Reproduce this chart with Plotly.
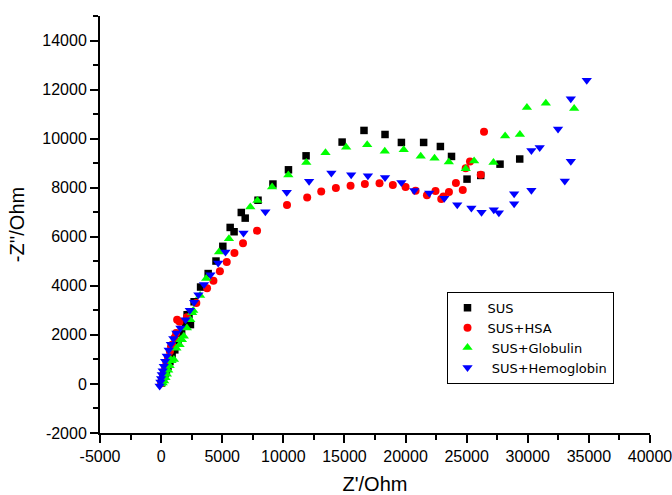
import plotly.graph_objects as go

# ---------------- data ----------------
sus_x = [30, 80, 150, 230, 320, 430, 560, 720, 900, 1120, 1380, 1680, 2000, 2130, 2400, 2280,
         2700, 3230, 3850, 4490, 5050, 5650, 5970, 6560, 6880, 7930, 9150, 10420, 11860,
         14810, 16600, 18320, 19660, 21480, 22850, 23760, 25030, 26150, 27730, 29340]
sus_y = [40, 110, 200, 300, 420, 560, 720, 910, 1130, 1390, 1700, 2060, 2450, 2820, 2420, 2825,
         3350, 3950, 4500, 5010, 5610, 6380, 6205, 6990, 6760, 7490, 8150, 8730, 9300,
         9860, 10335, 10170, 9845, 9845, 9680, 9275, 8350, 8500, 8960, 9170]

hsa_x = [20, 60, 110, 170, 240, 330, 430, 560, 720, 900, 1100, 1310, 1510, 1230, 810,
         2110, 2880, 3760, 4280, 4810, 5370, 6000, 6700, 7850, 10300, 11950, 13100, 14300,
         15500, 16670, 17870, 18960, 20000, 20820, 21750, 22450, 22920, 23100, 23550, 24120,
         24680, 24920, 25270, 26150, 26420]
hsa_y = [30, 100, 200, 330, 480, 650, 850, 1080, 1330, 1600, 1880, 2620, 2540, 2080, 1530,
         2720, 3300, 3900, 4210, 4590, 4970, 5340, 5740, 6250, 7300, 7603, 7848, 7984,
         8078, 8150, 8182, 8108, 8030, 7875, 7695, 7865, 7540, 7641, 7830, 8195,
         7910, 8790, 9065, 8530, 10280]

glob_x = [0, 130, 250, 360, 470, 580, 700, 760, 850, 1050, 1250, 1510, 1580, 1700, 1860, 2110,
          2390, 2540, 2630, 3190, 3690, 4740, 5550, 7300, 7880, 9080, 10410, 11880, 13450,
          15140, 16860, 18300, 19850, 21240, 22370, 23540, 24920, 25610, 27195, 28145,
          29355, 29930, 31478, 33796]
glob_y = [0, 40, 120, 250, 400, 560, 740, 990, 950, 1000, 1450, 1600, 1800, 1800, 1940, 2280,
          2620, 2900, 2990, 3610, 4300, 5380, 5920, 7210, 7480, 8025, 8520, 9030, 9420,
          9650, 9750, 9485, 9545, 9285, 9200, 9050, 8770, 9090, 9030, 10110,
          10170, 11265, 11448, 11230]

hemo_x = [-120, -60, 0, 60, 130, 220, 330, 460, 620, 800, 1000, 1250, 1580, 2000, 2350, 2700,
          3050, 3510, 4040, 4670, 5265, 6740, 8530, 10280, 12110, 13930, 15550, 16920,
          18320, 19660, 20710, 21940, 23170, 24230, 25385, 26215, 27220, 27635, 28885,
          28885, 30295, 33030, 33522, 30295, 30975, 32475, 33520, 34825]
hemo_y = [-80, 80, 220, 380, 540, 720, 920, 1140, 1380, 1620, 1850, 2080, 2280, 2620, 3000, 3330,
          3640, 4050, 4450, 4930, 5380, 6150, 7020, 7810, 8260, 8600, 8530, 8490,
          8420, 8216, 7890, 7780, 7570, 7305, 7170, 7000, 7100, 6980, 7350,
          7752, 7900, 8270, 9080, 9518, 9635, 10395, 11625, 12385]

names = ["SUS", "SUS+HSA", " SUS+Globulin", " SUS+Hemoglobin"]

x_tickvals = [-5000, 0, 5000, 10000, 15000, 20000, 25000, 30000, 35000, 40000]
x_ticktext = ["-5000", "0", "5000", "10000", "15000", "20000", "25000", "30000", "35000", "40000"]
y_tickvals = [-2000, 0, 2000, 4000, 6000, 8000, 10000, 12000, 14000]
y_ticktext = ["-2000", "0", "2000", "4000", "6000", "8000", "10000", "12000", "14000"]

# ---------------- figure ----------------
FONT = "Arial, 'Liberation Sans', sans-serif"
LEG_FONT = "'DejaVu Sans', Arial, sans-serif"

fig = go.Figure()
series = [
    (sus_x, sus_y, names[0], "square", "#000000", 7.5),
    (hsa_x, hsa_y, names[1], "circle", "#FF0000", 8),
    (glob_x, glob_y, names[2], "triangle-up", "#00FF00", 9),
    (hemo_x, hemo_y, names[3], "triangle-down", "#0000FF", 9),
]
for xs, ys, nm, sym, col, sz in series:
    fig.add_trace(go.Scatter(
        x=xs, y=ys, name=nm, mode="markers",
        marker=dict(symbol=sym, color=col, size=sz, line=dict(width=0)),
    ))

axis_common = dict(
    showgrid=False, zeroline=False, showline=True, linecolor="black", linewidth=2,
    ticks="outside", ticklen=8, tickwidth=2, tickcolor="black",
    tickfont=dict(family=FONT, size=16, color="black"),
    mirror=False, automargin=False, ticklabeloverflow="allow",
)

fig.update_xaxes(
    range=[-5000, 40000], tickmode="array", tickvals=x_tickvals, ticktext=x_ticktext,
    minor=dict(ticks="outside", ticklen=5, tickwidth=2, tickcolor="black", tickmode="linear",
               tick0=0, dtick=2500),
    title=dict(text="Z'/Ohm", font=dict(family=FONT, size=20, color="black"), standoff=16),
    **axis_common,
)
fig.update_yaxes(
    range=[-2000, 15000], tickmode="array", tickvals=y_tickvals, ticktext=y_ticktext,
    minor=dict(ticks="outside", ticklen=5, tickwidth=2, tickcolor="black", tickmode="linear",
               tick0=0, dtick=1000),
    title=dict(text="-Z''/Ohm", font=dict(family=FONT, size=20, color="black"), standoff=12),
    **axis_common,
)

fig.update_layout(
    width=672, height=495, autosize=False,
    margin=dict(l=100, r=22, t=16, b=62, pad=0),
    paper_bgcolor="white", plot_bgcolor="white",
    showlegend=True,
    legend=dict(
        x=0.630, y=0.3386, xanchor="left", yanchor="top",
        bordercolor="black", borderwidth=1, bgcolor="white",
        font=dict(family=LEG_FONT, size=13, color="black"),
        tracegroupgap=0, itemsizing="trace",
    ),
    font=dict(family=FONT),
)

fig.write_html(
    "out.html",
    config={"displayModeBar": False},
    post_script="document.body.style.margin='0';document.body.style.padding='0';"
                "document.body.style.overflow='hidden';",
)
